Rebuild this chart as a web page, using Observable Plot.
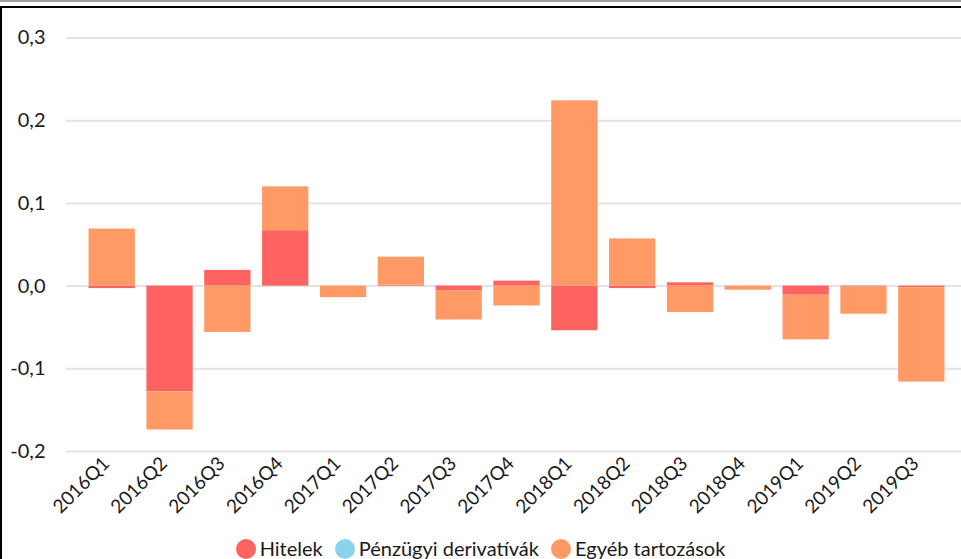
<!DOCTYPE html>
<html>
<head>
<meta charset="utf-8">
<script src="https://cdn.jsdelivr.net/npm/d3@7"></script>
<script src="https://cdn.jsdelivr.net/npm/@observablehq/plot@0.6"></script>
<style>
  html, body { margin: 0; padding: 0; background: #fff; }
  #wrap { position: relative; width: 961px; height: 559px; overflow: hidden; font-family: Lato, "Open Sans", sans-serif; }
  #chart { position: absolute; left: 0; top: 0; }
  .line-grey { position: absolute; left: 0; top: 0; width: 961px; height: 2px; background: #a0a0a0; }
  .line-top { position: absolute; left: 0; top: 6px; width: 961px; height: 2px; background: #000; }
  .line-left { position: absolute; left: 0; top: 6px; width: 2px; height: 553px; background: #000; }
  #legend { position: absolute; left: 0; top: 538px; width: 961px; height: 21px; line-height: 21px; display: flex; justify-content: center; align-items: center; font-size: 20px; color: #1a1a1a; white-space: nowrap; }
  #legend .item { display: flex; align-items: center; margin: 0 6px; }
  #legend .dot { width: 20px; height: 20px; border-radius: 50%; margin-right: 4px; }
</style>
</head>
<body>
<div id="wrap">
  <div id="chart"></div>
  <div class="line-grey"></div>
  <div class="line-top"></div>
  <div class="line-left"></div>
  <div id="legend"></div>
</div>
<script>
const quarters = ["2016Q1","2016Q2","2016Q3","2016Q4","2017Q1","2017Q2","2017Q3","2017Q4","2018Q1","2018Q2","2018Q3","2018Q4","2019Q1","2019Q2","2019Q3"];
const seriesNames = ["Hitelek","Pénzügyi derivatívák","Egyéb tartozások"];
const seriesColors = ["#ff6361","#8ad3eb","#ff9966"];
const hitelek     = [-0.003,-0.128, 0.019, 0.067, 0.000, 0.001,-0.006, 0.006,-0.054,-0.003, 0.004, 0.000,-0.011,-0.001,-0.002];
const derivativak = [ 0, 0, 0, 0, 0, 0, 0, 0, 0, 0, 0, 0, 0, 0, 0];
const egyeb       = [ 0.069,-0.046,-0.056, 0.053,-0.014, 0.034,-0.035,-0.024, 0.224, 0.057,-0.032,-0.005,-0.054,-0.033,-0.114];
const yTicks = [-0.2,-0.1,0,0.1,0.2,0.3];

const valuesBySeries = [hitelek, derivativak, egyeb];
const data = [];
seriesNames.forEach((s, si) => {
  quarters.forEach((q, qi) => data.push({quarter: q, series: s, value: valuesBySeries[si][qi]}));
});

const fmt = d => d.toFixed(1).replace(".", ",");

const chart = Plot.plot({
  width: 961,
  height: 530,
  marginLeft: 66,
  marginRight: 0,
  marginTop: 37.5,
  marginBottom: 79,
  style: {fontFamily: "Lato, 'Open Sans', sans-serif", fontSize: "20px", color: "#1a1a1a", background: "transparent"},
  x: {domain: quarters, range: [77, 956], padding: 0.2, round: false, label: null},
  y: {domain: [-0.2, 0.3], label: null},
  color: {domain: seriesNames, range: seriesColors},
  marks: [
    Plot.gridY(yTicks, {stroke: "#e3e3e3", strokeOpacity: 1, strokeWidth: 2}),
    Plot.barY(data, {x: "quarter", y: "value", fill: "series", order: seriesNames}),
    Plot.axisY(yTicks, {tickSize: 0, tickPadding: 21, tickFormat: fmt, fontSize: 20, label: null}),
    Plot.axisX({tickSize: 0, tickRotate: -45, tickPadding: 9, fontSize: 19, dx: -6, label: null})
  ]
});
document.getElementById("chart").appendChild(chart);

const legend = document.getElementById("legend");
seriesNames.forEach((s, i) => {
  const item = document.createElement("div");
  item.className = "item";
  const dot = document.createElement("span");
  dot.className = "dot";
  dot.style.background = seriesColors[i];
  const txt = document.createElement("span");
  txt.textContent = s;
  item.appendChild(dot);
  item.appendChild(txt);
  legend.appendChild(item);
});
</script>
</body>
</html>
